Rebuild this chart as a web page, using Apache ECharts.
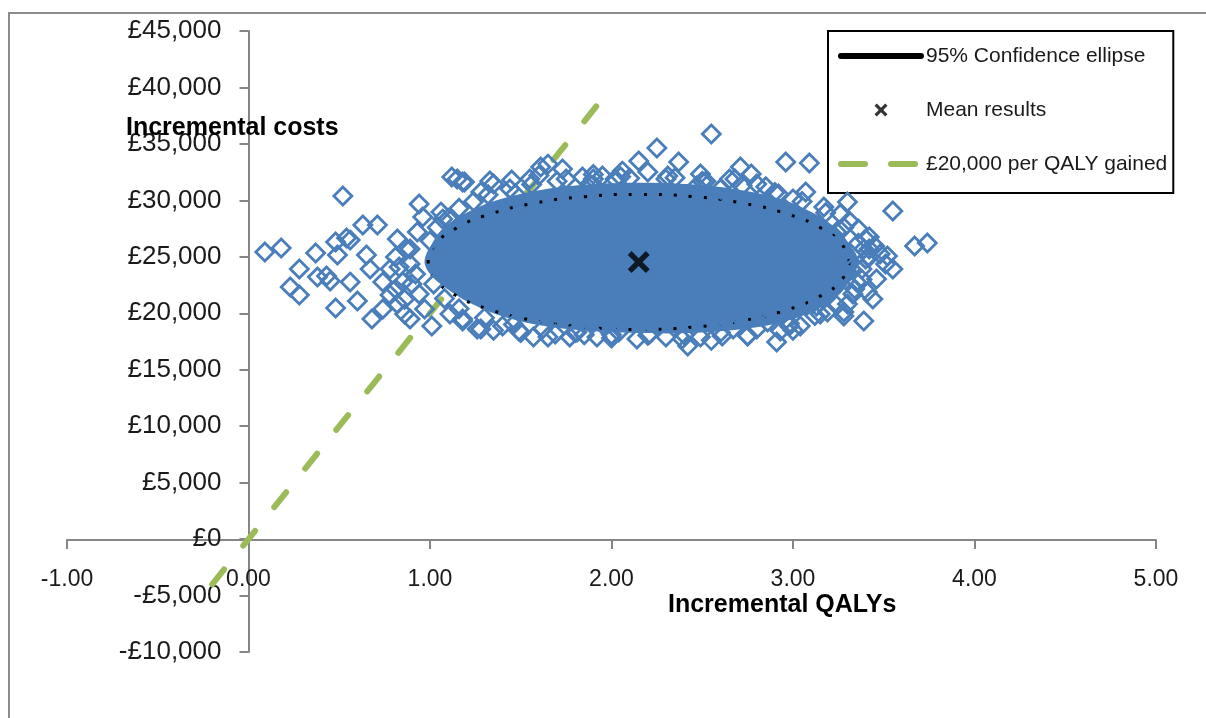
<!DOCTYPE html>
<html>
<head>
<meta charset="utf-8">
<script src="https://cdn.jsdelivr.net/npm/echarts@6/dist/echarts.min.js"></script>
<style>
html,body{margin:0;padding:0;background:#fff;}
#chart{width:1206px;height:718px;}
</style>
</head>
<body>
<div id="chart"></div>
<script>
// ---- Data ----
const xTickValues = [-1, 0, 1, 2, 3, 4, 5];
const xTickLabels = ['-1.00', '0.00', '1.00', '2.00', '3.00', '4.00', '5.00'];
const yTickValues = [-10000, -5000, 0, 5000, 10000, 15000, 20000, 25000, 30000, 35000, 40000, 45000];
const yTickLabels = ['-£10,000', '-£5,000', '£0', '£5,000', '£10,000', '£15,000', '£20,000', '£25,000', '£30,000', '£35,000', '£40,000', '£45,000'];

const seriesNames = ['95% Confidence ellipse', 'Mean results', '£20,000 per QALY gained'];
const xTitle = 'Incremental QALYs';
const yTitle = 'Incremental costs';

// Bootstrap / PSA simulations: individually visible points around the cloud
const simQaly = [
  0.52, 0.09, 0.18, 0.37, 0.48, 0.56, 0.63, 0.71, 0.28, 0.23, 0.28, 0.38, 0.43, 0.49, 0.56, 0.48, 0.60, 0.65, 0.68, 0.74,
  0.82, 0.82, 0.94, 0.96, 1.12, 1.18, 1.06, 1.07, 0.89, 1.01, 1.18, 1.28, 1.28, 1.33, 0.45, 0.74, 0.85, 0.78, 0.87, 0.93,
  0.54, 0.78, 0.89, 0.86, 0.67, 0.81,
  2.55, 2.25, 2.37, 2.15, 2.96, 3.09, 2.71, 2.77, 2.68, 1.73, 1.61, 1.65, 1.95, 2.06, 1.84, 2.20, 2.31, 1.15, 1.19, 1.35,
  1.47, 2.47, 2.92, 2.80, 3.00, 3.07, 3.17, 1.88, 1.55, 2.02, 2.49, 2.60,
  3.55, 3.67, 3.74, 3.30, 3.26, 3.36, 3.42, 3.45, 3.51, 3.55, 3.41, 3.39, 3.28, 3.35, 3.19, 3.13, 3.04, 2.93, 3.24, 3.52,
  3.46, 3.39, 3.32, 3.42,
  2.91, 2.61, 2.75, 2.39, 2.42, 1.92, 2.04, 2.14, 1.69, 1.57, 1.26, 1.40, 1.18, 2.98, 3.15, 3.28, 2.86, 2.21, 1.81, 2.67,
  1.77, 2.49, 1.49, 1.11,
  // points hugging the dense core
  1.00, 1.04, 1.10, 1.16, 1.24, 1.32, 1.44, 1.56, 1.70, 1.90, 2.10, 2.30, 2.52, 2.72, 2.90, 3.05, 3.18, 3.28, 3.36, 3.40,
  1.02, 1.08, 1.16, 1.30, 1.46, 1.62, 1.80, 2.00, 2.20, 2.40, 2.60, 2.80, 2.98, 3.12, 3.24, 3.33, 3.38,
  0.89, 0.92, 0.94, 0.86, 0.97, 0.83, 0.90, 0.81,
  3.42, 3.38, 3.34, 3.30, 3.40, 3.48, 3.44, 3.31,
  1.45, 1.60, 1.75, 1.90, 2.05, 2.35, 2.50, 2.65, 2.85,
  1.35, 1.50, 1.65, 1.85, 2.00, 2.30, 2.55, 2.75, 3.00
];
const simCost = [
  30380, 25420, 25775, 25330, 26305, 26480, 27810, 27810, 23915, 22320, 21610, 23205, 23295, 25155, 22760, 20460, 21080, 25155, 19485, 20370,
  20815, 26570, 29670, 28520, 32060, 31620, 28960, 28340, 19485, 18865, 19485, 18600, 30735, 31710, 22850, 22760, 22760, 23915, 25685, 27190,
  26660, 21610, 24360, 21250, 23915, 24980,
  35870, 34630, 33390, 33480, 33390, 33300, 32950, 32330, 31885, 32770, 32950, 33210, 32150, 32590, 32060, 32505, 32150, 31885, 31620, 31440,
  30555, 31265, 30555, 31440, 30115, 30735, 29405, 31440, 31885, 31885, 32330, 31000,
  29050, 25950, 26215, 29850, 28785, 27460, 26750, 25950, 24360, 23915, 21875, 19310, 20105, 22760, 20105, 20635, 18865, 18420, 27190, 25065,
  23030, 25685, 23915, 24980,
  17450, 17980, 17980, 17715, 17095, 17890, 18335, 17715, 18155, 17890, 18600, 18865, 19310, 18865, 19930, 19750, 19220, 18155, 18335, 18600,
  17890, 17890, 18420, 19930,
  26400, 27600, 28400, 29300, 29900, 30500, 31000, 31400, 31700, 31900, 31950, 31900, 31700, 31300, 30700, 29900, 28900, 27600, 26200, 24800,
  22600, 21300, 20400, 19600, 19000, 18600, 18300, 18100, 18050, 18100, 18300, 18600, 19100, 19800, 20700, 21700, 23000,
  25685, 23470, 21700, 19930, 20370, 24090, 22585, 22140,
  25685, 23915, 22140, 20815, 26570, 25245, 21255, 28165,
  31800, 32200, 31900, 32300, 32100, 32000, 31700, 31900, 31200,
  18500, 18300, 17900, 18100, 17800, 17900, 17600, 18000, 18500
];

// Outline of the densely overlapping (solid) part of the simulation cloud
const coreQaly = [0.97, 1.01, 1.08, 1.22, 1.39, 1.61, 1.83, 2.05, 2.27, 2.49, 2.71, 2.93, 3.09, 3.23, 3.31, 3.36,
                  3.32, 3.24, 3.09, 2.90, 2.68, 2.43, 2.16, 1.88, 1.63, 1.41, 1.22, 1.08, 1.00];
const coreCost = [24620, 26130, 27630, 29050, 30115, 30910, 31350, 31530, 31530, 31350, 30910, 30115, 29050, 27630, 26130, 24620,
                  23030, 21435, 20015, 19040, 18510, 18245, 18245, 18420, 18865, 19660, 20900, 22320, 23470];

// 95% confidence ellipse outline
const ellipseQaly = [3.31, 3.27, 3.155, 2.97, 2.73, 2.45, 2.15, 1.85, 1.57, 1.33, 1.145, 1.03, 0.99,
                     1.03, 1.145, 1.33, 1.57, 1.85, 2.15, 2.45, 2.73, 2.97, 3.155, 3.27, 3.31];
const ellipseCost = [24550, 26100, 27540, 28780, 29730, 30330, 30530, 30330, 29730, 28780, 27540, 26100, 24550,
                     23000, 21560, 20320, 19370, 18770, 18570, 18770, 19370, 20320, 21560, 23000, 24550];

// Mean result
const meanQaly = [2.15];
const meanCost = [24530];

// £20,000 per QALY threshold line
const wtpQaly = [-0.2, 1.93];
const wtpCost = [-4000, 38600];

// ---- Chart ----
const zip = (a, b) => a.map((v, i) => [v, b[i]]);
const BLUE = '#4A7EBB';
const GREEN = '#9BBB59';
const AXIS = '#868686';
const xPath = 'path://M3.5,0 L10,6.5 L16.5,0 L20,3.5 L13.5,10 L20,16.5 L16.5,20 L10,13.5 L3.5,20 L0,16.5 L6.5,10 L0,3.5 Z';

const chart = echarts.init(document.getElementById('chart'), null, {renderer: 'canvas'});
chart.setOption({
  animation: false,
  backgroundColor: '#ffffff',
  grid: {left: 67, right: 50, top: 31, bottom: 66, containLabel: false, outerBoundsMode: 'none'},
  xAxis: {
    type: 'value', min: -1, max: 5, interval: 1, position: 'bottom', offset: -112,
    axisLine: {onZero: false, lineStyle: {color: AXIS, width: 2}},
    axisTick: {show: true, length: 9, lineStyle: {color: AXIS, width: 2}},
    splitLine: {show: false},
    axisLabel: {
      margin: 28, color: '#1a1a1a', fontFamily: 'Liberation Sans', fontSize: 23,
      formatter: v => { const i = xTickValues.indexOf(Math.round(v * 100) / 100); return i >= 0 ? xTickLabels[i] : ''; }
    }
  },
  yAxis: {
    type: 'value', min: -10000, max: 45000, interval: 5000, position: 'left', offset: -181.5,
    axisLine: {onZero: false, lineStyle: {color: AXIS, width: 2}},
    axisTick: {show: true, length: 9, lineStyle: {color: AXIS, width: 2}},
    splitLine: {show: false},
    axisLabel: {
      margin: 27, color: '#1a1a1a', fontFamily: 'Liberation Sans', fontSize: 26,
      formatter: v => { const i = yTickValues.indexOf(Math.round(v)); return i >= 0 ? yTickLabels[i] : ''; }
    }
  },
  legend: {
    left: 828, top: 31, orient: 'vertical',
    backgroundColor: '#ffffff', borderColor: '#000000', borderWidth: 2,
    padding: [13, 6, 17, 10],
    itemWidth: 80, itemHeight: 13, itemGap: 30,
    textStyle: {fontFamily: 'Liberation Sans', fontSize: 21, color: '#1a1a1a', lineHeight: 24},
    data: [
      {name: seriesNames[0], itemStyle: {opacity: 0, borderWidth: 0}, lineStyle: {width: 6, type: 'solid', color: '#000', cap: 'round'}},
      {name: seriesNames[1]},
      {name: seriesNames[2], itemStyle: {opacity: 0, borderWidth: 0}, lineStyle: {width: 6, type: [24, 26], color: GREEN, cap: 'round'}}
    ],
    selectedMode: false
  },
  graphic: [
    {type: 'polyline', z: 100, silent: true, shape: {points: [[9, 718], [9, 13], [1206, 13]]},
     style: {stroke: '#8c8c8c', lineWidth: 2, fill: null}},
    {type: 'text', left: 126, top: 116, z: 100, silent: true,
     style: {text: yTitle, font: 'bold 25px "Liberation Sans"', fill: '#000'}},
    {type: 'text', left: 668, top: 593, z: 100, silent: true,
     style: {text: xTitle, font: 'bold 25px "Liberation Sans"', fill: '#000'}}
  ],
  series: [
    {
      name: seriesNames[2], type: 'line', z: 1, data: zip(wtpQaly, wtpCost),
      symbol: 'none', silent: true,
      itemStyle: {color: GREEN},
      lineStyle: {color: GREEN, width: 6, type: [19, 30.5], cap: 'round'}
    },
    {
      name: 'core', type: 'custom', z: 2, silent: true,
      data: [[coreQaly[0], coreCost[0]]],
      renderItem: (params, api) => ({
        type: 'polygon',
        shape: {points: coreQaly.map((q, i) => api.coord([q, coreCost[i]])), smooth: 0.35},
        style: {fill: BLUE}
      })
    },
    {
      name: seriesNames[0], type: 'line', z: 3, data: zip(ellipseQaly, ellipseCost),
      symbol: 'none', smooth: true, silent: true,
      itemStyle: {color: '#000'},
      lineStyle: {color: '#000', width: 3, type: [3, 12]}
    },
    {
      name: 'simulations', type: 'scatter', z: 4, silent: true,
      data: zip(simQaly, simCost),
      symbol: 'diamond', symbolSize: 18,
      itemStyle: {color: 'rgba(0,0,0,0)', borderColor: BLUE, borderWidth: 2.8, opacity: 1}
    },
    {
      name: seriesNames[1], type: 'scatter', z: 5, silent: true,
      data: zip(meanQaly, meanCost),
      symbol: xPath, symbolSize: 22, symbolKeepAspect: true,
      itemStyle: {color: '#000'}
    }
  ]
});
</script>
</body>
</html>
